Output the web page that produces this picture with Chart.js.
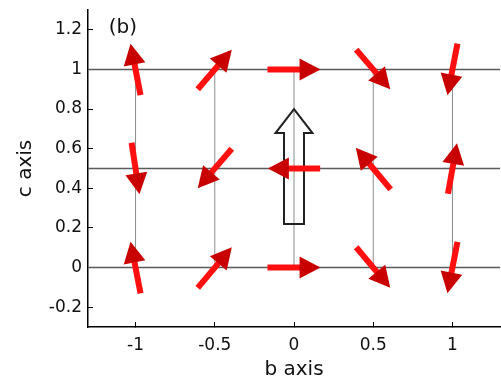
<!DOCTYPE html>
<html lang="en">
<head>
<meta charset="UTF-8">
<title>b-c axis arrows</title>
<style>
  html, body { margin: 0; padding: 0; background: #fff; }
  #wrap { width: 501px; height: 385px; }
</style>
</head>
<body>
<div id="wrap"><canvas id="myChart" width="501" height="385"></canvas></div>
<script src="https://cdn.jsdelivr.net/npm/chart.js"></script>
<script>
// grid nodes
var bPos = [-1, -0.5, 0, 0.5, 1];
var cPos = [0, 0.5, 1];

// arrow components (along b, along c) at each node, one list per c row
var db0 = [-0.063, 0.215, 0.335, 0.215, -0.063];
var dc0 = [0.26, 0.205, 0, -0.205, -0.26];
var db05 = [0.05, -0.215, -0.33, -0.22, 0.057];
var dc05 = [-0.26, -0.2, 0, 0.21, 0.255];
var db1 = [-0.063, 0.215, 0.335, 0.215, -0.063];
var dc1 = [0.26, 0.2, 0, -0.2, -0.26];

// big hollow arrow along c at b = 0
var bigArrowB = 0;
var bigArrowFrom = 0.22;
var bigArrowTo = 0.8;

var bMin = -1.3, bMax = 1.3;
var cMin = -0.3, cMax = 1.3;
var xTicks = [-1, -0.5, 0, 0.5, 1];
var yTicks = [-0.2, 0, 0.2, 0.4, 0.6, 0.8, 1, 1.2];

var rows = [
    { c: cPos[0], db: db0, dc: dc0 },
    { c: cPos[1], db: db05, dc: dc05 },
    { c: cPos[2], db: db1, dc: dc1 }
];

var datasets = [];
cPos.forEach(function (c) {
    datasets.push({
        data: [{ x: bMin, y: c }, { x: bMax, y: c }],
        showLine: true, pointRadius: 0,
        borderColor: '#5a5a5a', borderWidth: 1.5
    });
});
bPos.forEach(function (b) {
    datasets.push({
        data: [{ x: b, y: cPos[0] }, { x: b, y: cPos[cPos.length - 1] }],
        showLine: true, pointRadius: 0,
        borderColor: '#8c8c8c', borderWidth: 1
    });
});

function drawArrow(ctx, x1, y1, x2, y2) {
    var dx = x2 - x1, dy = y2 - y1;
    var len = Math.sqrt(dx * dx + dy * dy);
    var ux = dx / len, uy = dy / len;
    var headLen = 21, headHalf = 11;
    var bx = x2 - ux * headLen, by = y2 - uy * headLen;

    ctx.strokeStyle = '#ff1010';
    ctx.lineWidth = 6;
    ctx.lineCap = 'butt';
    ctx.beginPath();
    ctx.moveTo(x1, y1);
    ctx.lineTo(bx + ux * 2, by + uy * 2);
    ctx.stroke();

    ctx.fillStyle = '#c80000';
    ctx.beginPath();
    ctx.moveTo(x2, y2);
    ctx.lineTo(bx - uy * headHalf, by + ux * headHalf);
    ctx.lineTo(bx + uy * headHalf, by - ux * headHalf);
    ctx.closePath();
    ctx.fill();
}

var quiverPlugin = {
    id: 'quiver',
    afterDatasetsDraw: function (chart) {
        var ctx = chart.ctx;
        var xs = chart.scales.x, ys = chart.scales.y;
        ctx.save();

        // hollow arrow
        var x0 = xs.getPixelForValue(bigArrowB);
        var yFrom = ys.getPixelForValue(bigArrowFrom);
        var yTip = ys.getPixelForValue(bigArrowTo);
        var yBase = yTip + 24;
        ctx.strokeStyle = '#222';
        ctx.lineWidth = 2;
        ctx.lineJoin = 'miter';
        ctx.beginPath();
        ctx.moveTo(x0 - 10, yFrom);
        ctx.lineTo(x0 - 10, yBase);
        ctx.lineTo(x0 - 18.5, yBase);
        ctx.lineTo(x0, yTip);
        ctx.lineTo(x0 + 18.5, yBase);
        ctx.lineTo(x0 + 10, yBase);
        ctx.lineTo(x0 + 10, yFrom);
        ctx.closePath();
        ctx.stroke();

        // red arrows centred on the nodes
        rows.forEach(function (row) {
            bPos.forEach(function (b, i) {
                var hb = row.db[i] / 2, hc = row.dc[i] / 2;
                drawArrow(ctx,
                    xs.getPixelForValue(b - hb), ys.getPixelForValue(row.c - hc),
                    xs.getPixelForValue(b + hb), ys.getPixelForValue(row.c + hc));
            });
        });

        // panel label
        ctx.fillStyle = '#111';
        ctx.font = '20px "DejaVu Sans"';
        ctx.textAlign = 'center';
        ctx.textBaseline = 'middle';
        ctx.fillText('(b)', xs.getPixelForValue(-1.08), ys.getPixelForValue(1.21));
        ctx.restore();
    }
};

var tickFont = { family: 'DejaVu Sans', size: 17 };
var titleFont = { family: 'DejaVu Sans', size: 20 };

function noPad(s) {
    s.paddingTop = 0;
    s.paddingBottom = 0;
    s.paddingLeft = 0;
    s.paddingRight = 0;
}

var ctx = document.getElementById('myChart').getContext('2d');
var myChart = new Chart(ctx, {
    type: 'scatter',
    data: { datasets: datasets },
    options: {
        responsive: false,
        animation: false,
        devicePixelRatio: 1,
        layout: { padding: { top: 10, right: 1, left: 0, bottom: 0 } },
        plugins: { legend: { display: false }, tooltip: { enabled: false } },
        scales: {
            x: {
                type: 'linear', min: bMin, max: bMax,
                afterBuildTicks: function (s) { s.ticks = xTicks.map(function (v) { return { value: v }; }); },
                afterFit: function (s) { s.height = 58; noPad(s); },
                grid: { drawOnChartArea: false, drawTicks: true, tickLength: -5, color: '#000', lineWidth: 1 },
                border: { color: '#000', width: 1.5 },
                ticks: { padding: 13, maxRotation: 0, color: '#111', font: tickFont,
                    callback: function (v) { return String(v); } },
                title: { display: true, text: 'b axis', color: '#111', font: titleFont,
                    padding: { top: 0, bottom: 3 } }
            },
            y: {
                type: 'linear', min: cMin, max: cMax,
                afterBuildTicks: function (s) { s.ticks = yTicks.map(function (v) { return { value: v }; }); },
                afterFit: function (s) { s.width = 88; noPad(s); },
                grid: { drawOnChartArea: false, drawTicks: true, tickLength: -5, color: '#000', lineWidth: 1 },
                border: { color: '#000', width: 1.5 },
                ticks: { padding: 11, color: '#111', font: tickFont,
                    callback: function (v) { return String(v); } },
                title: { display: true, text: 'c axis', color: '#111', font: titleFont,
                    padding: { top: 14, bottom: 0 } }
            }
        }
    },
    plugins: [quiverPlugin]
});
</script>
</body>
</html>
